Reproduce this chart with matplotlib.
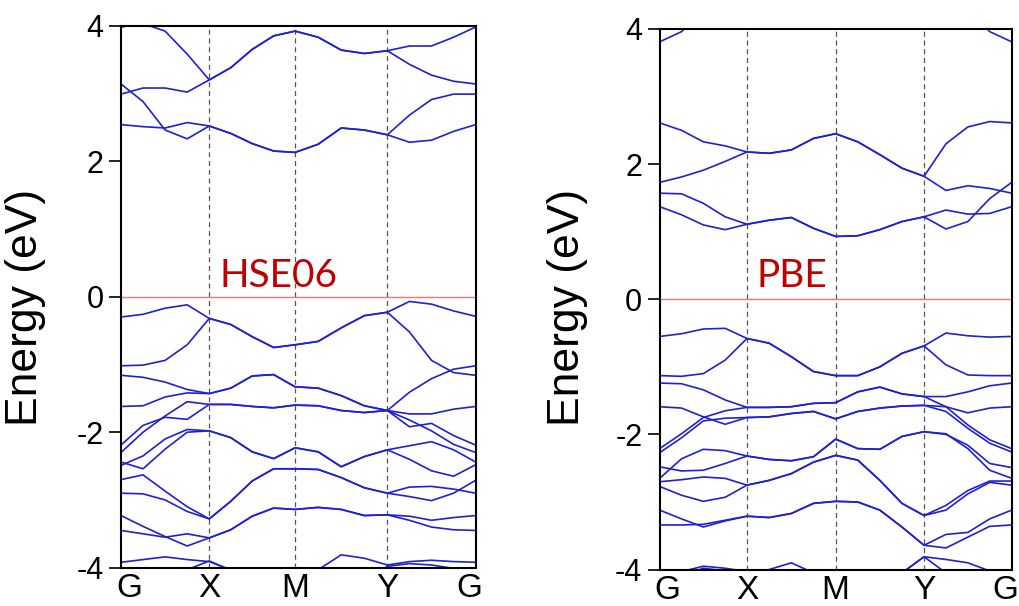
import numpy as np
import matplotlib
matplotlib.use('Agg')
import matplotlib.pyplot as plt
import matplotlib.transforms as mtransforms

plt.rcParams['font.family'] = ['Liberation Sans', 'DejaVu Sans']

# high-symmetry path; every segment sampled at quarter points (17 values per band)
kpath_labels = ['G', 'X', 'M', 'Y', 'G']
hse_kticks = [0.0, 0.249, 0.491, 0.751, 1.0]
pbe_kticks = [0.0, 0.248, 0.500, 0.751, 1.0]

# ---- HSE06 bands (eV) ----
hse_cond = [
    [3.98, 4.03, 3.92, 3.58, 3.20, 3.38, 3.65, 3.85, 3.92, 3.83, 3.64, 3.59, 3.63, 3.70, 3.70, 3.83, 3.98],
    [2.99, 3.08, 3.08, 3.02, 3.20, 3.38, 3.65, 3.85, 3.92, 3.83, 3.64, 3.59, 3.63, 3.43, 3.27, 3.18, 3.14],
    [3.14, 2.88, 2.46, 2.33, 2.52, 2.41, 2.26, 2.15, 2.13, 2.25, 2.49, 2.46, 2.39, 2.68, 2.91, 2.99, 2.99],
    [2.54, 2.51, 2.49, 2.57, 2.52, 2.41, 2.26, 2.15, 2.13, 2.25, 2.49, 2.46, 2.39, 2.28, 2.31, 2.44, 2.54],
]
hse_val = [
    [-0.30, -0.26, -0.17, -0.12, -0.32, -0.41, -0.59, -0.75, -0.71, -0.66, -0.46, -0.28, -0.23, -0.07, -0.11, -0.21, -0.29],
    [-1.02, -1.01, -0.94, -0.71, -0.32, -0.41, -0.59, -0.75, -0.71, -0.66, -0.46, -0.28, -0.23, -0.52, -0.94, -1.12, -1.16],
    [-1.16, -1.19, -1.26, -1.37, -1.43, -1.35, -1.17, -1.15, -1.33, -1.35, -1.46, -1.61, -1.68, -1.41, -1.21, -1.07, -1.02],
    [-1.62, -1.61, -1.48, -1.42, -1.43, -1.35, -1.17, -1.15, -1.33, -1.35, -1.46, -1.61, -1.68, -1.73, -1.73, -1.66, -1.62],
    [-2.19, -1.90, -1.78, -1.81, -1.59, -1.59, -1.62, -1.64, -1.60, -1.61, -1.68, -1.71, -1.68, -1.92, -1.87, -2.05, -2.19],
    [-2.30, -2.00, -1.76, -1.55, -1.59, -1.59, -1.62, -1.64, -1.60, -1.61, -1.68, -1.71, -1.68, -1.82, -1.98, -2.18, -2.30],
    [-2.44, -2.54, -2.25, -2.00, -1.98, -2.08, -2.29, -2.39, -2.23, -2.29, -2.51, -2.36, -2.26, -2.20, -2.14, -2.26, -2.44],
    [-2.49, -2.35, -2.10, -1.96, -1.98, -2.08, -2.29, -2.39, -2.23, -2.29, -2.51, -2.36, -2.26, -2.40, -2.57, -2.65, -2.48],
    [-2.70, -2.63, -2.87, -3.10, -3.28, -3.02, -2.72, -2.54, -2.54, -2.55, -2.67, -2.82, -2.90, -2.81, -2.80, -2.84, -2.90],
    [-2.90, -2.91, -3.00, -3.17, -3.28, -3.02, -2.72, -2.54, -2.54, -2.55, -2.67, -2.82, -2.90, -2.95, -3.01, -2.90, -2.71],
    [-3.23, -3.39, -3.54, -3.68, -3.56, -3.44, -3.24, -3.12, -3.14, -3.11, -3.14, -3.23, -3.22, -3.24, -3.30, -3.26, -3.23],
    [-3.45, -3.50, -3.55, -3.50, -3.56, -3.44, -3.24, -3.12, -3.14, -3.11, -3.14, -3.23, -3.22, -3.30, -3.40, -3.44, -3.45],
    [-3.92, -3.88, -3.84, -3.88, -3.91, -4.03, -4.09, -4.14, -4.14, -4.03, -3.81, -3.86, -3.96, -3.91, -3.89, -3.91, -3.92],
    [-4.19, -4.19, -4.14, -4.03, -3.90, -4.04, -4.19, -4.19, -4.19, -4.19, -4.19, -4.19, -3.98, -3.94, -3.96, -4.01, -4.09],
]

# ---- PBE bands (eV) ----
pbe_cond = [
    [3.81, 3.96, 4.30, 4.30, 4.30, 4.30, 4.30, 4.30, 4.30, 4.30, 4.30, 4.30, 4.30, 4.30, 4.30, 3.96, 3.81],
    [2.61, 2.50, 2.33, 2.27, 2.18, 2.16, 2.21, 2.38, 2.45, 2.33, 2.14, 1.94, 1.82, 2.30, 2.55, 2.63, 2.61],
    [1.73, 1.81, 1.91, 2.04, 2.18, 2.16, 2.21, 2.38, 2.45, 2.33, 2.14, 1.94, 1.82, 1.61, 1.68, 1.64, 1.57],
    [1.57, 1.56, 1.42, 1.22, 1.11, 1.17, 1.21, 1.05, 0.93, 0.94, 1.03, 1.15, 1.22, 1.32, 1.26, 1.27, 1.37],
    [1.37, 1.25, 1.10, 1.03, 1.11, 1.17, 1.21, 1.05, 0.93, 0.94, 1.03, 1.15, 1.22, 1.04, 1.15, 1.49, 1.73],
]
pbe_val = [
    [-0.55, -0.51, -0.44, -0.43, -0.58, -0.65, -0.85, -1.07, -1.13, -1.13, -1.00, -0.80, -0.69, -0.50, -0.54, -0.56, -0.55],
    [-1.13, -1.14, -1.10, -0.90, -0.58, -0.65, -0.85, -1.07, -1.13, -1.13, -1.00, -0.80, -0.69, -0.97, -1.12, -1.13, -1.13],
    [-1.24, -1.25, -1.34, -1.49, -1.60, -1.60, -1.59, -1.54, -1.53, -1.37, -1.30, -1.40, -1.44, -1.44, -1.37, -1.28, -1.24],
    [-2.21, -1.99, -1.75, -1.65, -1.60, -1.60, -1.59, -1.54, -1.53, -1.37, -1.30, -1.40, -1.44, -1.59, -1.86, -2.08, -2.21],
    [-1.59, -1.61, -1.74, -1.85, -1.75, -1.74, -1.69, -1.66, -1.77, -1.66, -1.61, -1.58, -1.57, -1.59, -1.68, -1.61, -1.59],
    [-2.27, -2.05, -1.80, -1.76, -1.75, -1.74, -1.69, -1.66, -1.77, -1.66, -1.61, -1.58, -1.57, -1.66, -1.91, -2.13, -2.26],
    [-2.48, -2.54, -2.53, -2.43, -2.32, -2.37, -2.39, -2.33, -2.07, -2.21, -2.22, -2.03, -1.96, -2.00, -2.16, -2.43, -2.49],
    [-2.65, -2.36, -2.22, -2.24, -2.32, -2.37, -2.39, -2.33, -2.07, -2.21, -2.22, -2.03, -1.96, -1.99, -2.21, -2.53, -2.65],
    [-2.70, -2.67, -2.63, -2.65, -2.75, -2.68, -2.58, -2.41, -2.31, -2.38, -2.68, -3.02, -3.20, -3.05, -2.83, -2.69, -2.69],
    [-2.77, -2.90, -2.99, -2.93, -2.75, -2.68, -2.58, -2.41, -2.31, -2.38, -2.68, -3.02, -3.20, -3.12, -2.88, -2.71, -2.75],
    [-3.12, -3.25, -3.37, -3.28, -3.21, -3.23, -3.17, -3.02, -2.99, -3.00, -3.12, -3.37, -3.64, -3.48, -3.45, -3.25, -3.12],
    [-3.34, -3.34, -3.33, -3.27, -3.21, -3.23, -3.17, -3.02, -2.99, -3.00, -3.12, -3.37, -3.64, -3.68, -3.52, -3.36, -3.34],
    [-4.20, -4.03, -3.95, -3.98, -4.03, -4.00, -3.90, -4.05, -4.20, -4.20, -4.20, -4.05, -3.81, -3.85, -3.90, -4.02, -4.15],
    [-4.25, -4.10, -3.98, -4.02, -4.06, -4.20, -4.25, -4.25, -4.25, -4.25, -4.25, -4.05, -3.81, -4.05, -4.25, -4.25, -4.25],
]

yticks = [-4, -2, 0, 2, 4]
ytick_lbls = ['-4', '-2', '0', '2', '4']

BAND_COLOR = '#2020D4'


def kpoints(kticks, n_sub=4):
    pts = [kticks[0]]
    for a, b in zip(kticks[:-1], kticks[1:]):
        pts.extend(np.linspace(a, b, n_sub + 1)[1:])
    return np.array(pts)


def draw_panel(ax, kticks, bands, name, name_xy):
    k = kpoints(kticks)
    for kv in kticks[1:-1]:
        ax.axvline(kv, color='#555555', lw=0.9, ls=(0, (4, 3)), zorder=1)
    ax.axhline(0, color='#F07878', lw=1.0, zorder=1)
    for e in bands:
        ax.plot(k, e, color=BAND_COLOR, lw=1.2, zorder=2)
    ax.set_xlim(0, 1)
    ax.set_ylim(-4, 4)
    ax.set_yticks(yticks)
    ax.set_yticklabels(ytick_lbls)
    ax.set_xticks(kticks)
    ax.set_xticklabels(kpath_labels)
    ax.tick_params(axis='y', direction='out', length=8.5, width=1.2,
                   labelsize=22, pad=4)
    ax.tick_params(axis='x', length=0, labelsize=24, pad=4)
    for sp in ax.spines.values():
        sp.set_linewidth(1.5)
    # end G labels sit a little inside the frame
    lbls = ax.get_xticklabels()
    lbls[0].set_transform(lbls[0].get_transform() +
                          mtransforms.ScaledTranslation(8 / 100, 0, fig.dpi_scale_trans))
    lbls[-1].set_transform(lbls[-1].get_transform() +
                           mtransforms.ScaledTranslation(-6 / 100, 0, fig.dpi_scale_trans))
    ax.text(name_xy[0], name_xy[1], name, fontsize=28, color='#C00000',
            family=['Lato', 'DejaVu Sans'], ha='left', va='baseline', zorder=3)


fig = plt.figure(figsize=(10.19, 6.06), dpi=100)
ax1 = fig.add_axes([0.1187, 0.0632, 0.3481, 0.8944])
ax2 = fig.add_axes([0.6474, 0.0601, 0.3454, 0.8921])

draw_panel(ax1, hse_kticks, hse_cond + hse_val, 'HSE06', (0.279, 0.15))
draw_panel(ax2, pbe_kticks, pbe_cond + pbe_val, 'PBE', (0.275, 0.18))

fig.text(26 / 1019, 0.492, 'Energy (eV)', rotation=90, fontsize=32,
         ha='center', va='center')
fig.text(567 / 1019, 0.492, 'Energy (eV)', rotation=90, fontsize=32,
         ha='center', va='center')

fig.savefig('out.png', dpi=100)
